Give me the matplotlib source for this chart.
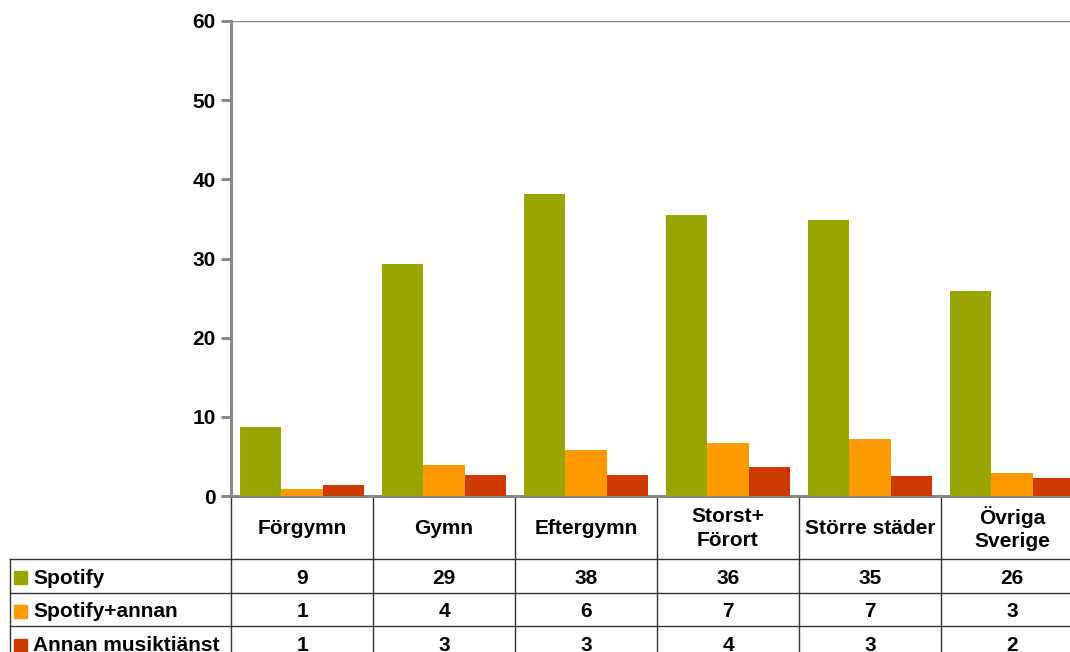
import numpy as np
import matplotlib.pyplot as plt
from matplotlib.transforms import blended_transform_factory
from matplotlib.patches import Rectangle

plt.rcParams['font.family'] = ['Liberation Sans', 'DejaVu Sans']
plt.rcParams['font.weight'] = 'bold'

categories = ['Förgymn', 'Gymn', 'Eftergymn', 'Storst+\nFörort', 'Större städer', 'Övriga\nSverige']
series = ['Spotify', 'Spotify+annan', 'Annan musiktiänst']
# bar heights
spotify = [8.7, 29.3, 38.1, 35.5, 34.9, 25.9]
spotify_annan = [0.85, 3.9, 5.8, 6.7, 7.2, 2.9]
annan = [1.35, 2.65, 2.65, 3.65, 2.55, 2.25]
# numbers printed in the table
table_spotify = [9, 29, 38, 36, 35, 26]
table_spotify_annan = [1, 4, 6, 7, 7, 3]
table_annan = [1, 3, 3, 4, 3, 2]
colors = ['#99A500', '#FF9900', '#CC3A00']

values = [spotify, spotify_annan, annan]
table_vals = [table_spotify, table_spotify_annan, table_annan]

W, H = 1070, 652
fs = 15
fig = plt.figure(figsize=(W / 100, H / 100), dpi=100)
# axes runs past the right edge, like the original crop
ax = fig.add_axes([231 / W, (H - 496) / H, (1083 - 231) / W, (496 - 21) / H])

x = np.arange(len(categories))
bw = 0.29
for i, vals in enumerate(values):
    ax.bar(x + (i - 1) * bw, vals, bw, color=colors[i], zorder=3)

ax.set_xlim(-0.5, len(categories) - 0.5)
ax.set_ylim(0, 60)
ax.set_yticks(range(0, 61, 10))
ax.set_xticks([])
ax.tick_params(axis='y', length=7, width=2.2, color='#888888', labelsize=fs, pad=4)
for lab in ax.get_yticklabels():
    lab.set_fontweight('bold')
for s in ['top', 'right']:
    ax.spines[s].set_visible(False)
ax.spines['left'].set_color('#888888')
ax.spines['left'].set_linewidth(2.2)
ax.spines['bottom'].set_color('#888888')
ax.spines['bottom'].set_linewidth(2.2)
ax.axhline(60, color='#888888', lw=1, zorder=1)

# data table under the chart
tr = blended_transform_factory(ax.transData, fig.transFigure)
def fy(py):
    return (H - py) / H

row_y = [496, 559, 592.5, 626, 660]
left_x = -0.5 + (10 - 231) / 142
lc = '#333333'

# horizontal lines
for py in row_y[1:]:
    ax.plot([left_x, len(categories) - 0.5], [fy(py), fy(py)], transform=tr,
            color=lc, lw=1, clip_on=False)
# vertical lines
for b in np.arange(-0.5, len(categories), 1.0):
    ax.plot([b, b], [fy(496), fy(660)], transform=tr, color=lc, lw=1, clip_on=False)
ax.plot([left_x, left_x], [fy(559), fy(660)], transform=tr, color=lc, lw=1, clip_on=False)

# header
for i, c in enumerate(categories):
    ax.text(i, fy((496 + 559) / 2 + 1), c, transform=tr, ha='center', va='center',
            fontsize=fs, fontweight='bold', linespacing=1.3)

# rows
sq = 13
for r, (name, vals) in enumerate(zip(series, table_vals)):
    cy = (row_y[r + 1] + row_y[r + 2]) / 2
    fig.patches.append(Rectangle((14 / W, fy(cy + sq / 2 + 2)), sq / W, sq / H,
                                 transform=fig.transFigure, color=colors[r]))
    fig.text(33 / W, fy(cy + 8), name, ha='left', va='baseline', fontsize=fs,
             fontweight='bold')
    for i, v in enumerate(vals):
        ax.text(i, fy(cy + 8), str(v), transform=tr, ha='center', va='baseline',
                fontsize=fs, fontweight='bold')

fig.savefig('out.png', dpi=100)
